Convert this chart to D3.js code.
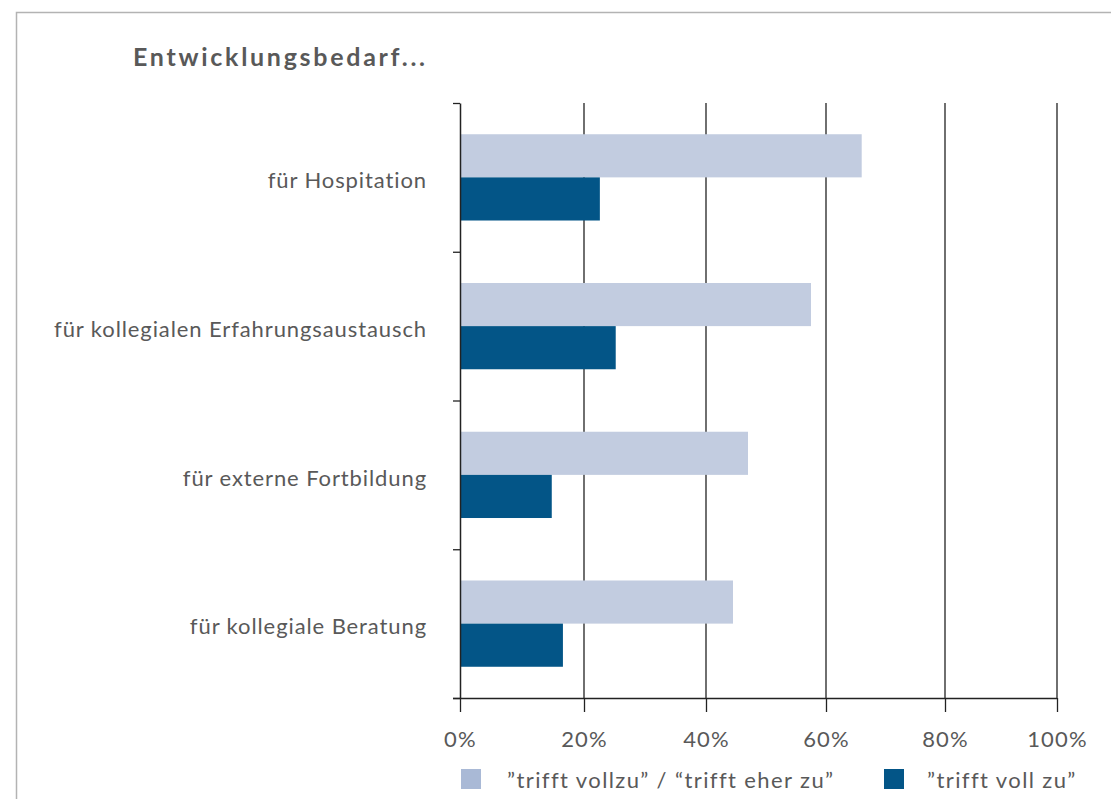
<!DOCTYPE html>
<html>
<head>
<meta charset="utf-8">
<script src="https://cdn.jsdelivr.net/npm/d3@7"></script>
<style>
  body { margin: 0; background: #fff; }
  svg { display: block; font-family: Lato, "Open Sans", sans-serif; }
  .axis path, .axis line { stroke: #222; }
</style>
</head>
<body>
<svg id="chart" width="1111" height="799"></svg>
<script>
const categories = [
  'für Hospitation',
  'für kollegialen Erfahrungsaustausch',
  'für externe Fortbildung',
  'für kollegiale Beratung'
];
const seriesNames = ['”trifft vollzu” / “trifft eher zu”', '”trifft voll zu”'];
const agreeValues = [66, 57.5, 47, 44.5];     // trifft voll zu / eher zu
const fullAgreeValues = [22.6, 25.2, 14.8, 16.6]; // trifft voll zu
const xTicks = [0, 20, 40, 60, 80, 100];
const colors = ['#c2cce0', '#035587'];
const legendColors = ['#a9b9d6', '#035587'];

const svg = d3.select('#chart');
const textColor = '#595959';

// frame
svg.append('path')
  .attr('d', 'M16.5,799 L16.5,12.5 L1111,12.5')
  .attr('fill', 'none')
  .attr('stroke', '#b3b3b3')
  .attr('stroke-width', 1.5);

// title
svg.append('text')
  .attr('x', 133)
  .attr('y', 66)
  .attr('font-size', 25)
  .attr('font-weight', 'bold')
  .attr('fill', textColor)
  .attr('textLength', 292)
  .text('Entwicklungsbedarf...');

const plotTop = 103, plotBottom = 698;

// piecewise scale to follow the reference gridlines
const x = d3.scaleLinear()
  .domain(xTicks)
  .range([460, 584, 706, 826, 945, 1057]);

const y = d3.scaleBand()
  .domain(categories)
  .range([plotTop, plotBottom])
  .paddingInner(0.42)
  .paddingOuter(0.21);

const ySub = d3.scaleBand()
  .domain([0, 1])
  .range([0, y.bandwidth()]);

// gridlines
svg.append('g')
  .selectAll('line')
  .data(xTicks.slice(1))
  .enter()
  .append('line')
  .attr('x1', d => x(d))
  .attr('x2', d => x(d))
  .attr('y1', plotTop)
  .attr('y2', plotBottom)
  .attr('stroke', '#222')
  .attr('stroke-width', 1.3);

// bars
const rows = categories.map((c, i) => ({ cat: c, vals: [agreeValues[i], fullAgreeValues[i]] }));
const groups = svg.append('g')
  .selectAll('g')
  .data(rows)
  .enter()
  .append('g')
  .attr('transform', d => `translate(0,${y(d.cat)})`);

groups.selectAll('rect')
  .data(d => d.vals)
  .enter()
  .append('rect')
  .attr('x', x(0))
  .attr('y', (d, i) => ySub(i))
  .attr('width', d => x(d) - x(0))
  .attr('height', ySub.bandwidth())
  .attr('fill', (d, i) => colors[i]);

// y axis with ticks at category boundaries
const yBound = d3.scaleLinear().domain([0, categories.length]).range([plotTop, plotBottom]);
const yAxis = svg.append('g')
  .attr('class', 'axis')
  .attr('transform', `translate(${x(0)},0)`)
  .call(d3.axisLeft(yBound).tickValues(d3.range(categories.length + 1)).tickFormat('').tickSize(7).tickSizeOuter(0));
yAxis.selectAll('line').attr('stroke-width', 1.3);
yAxis.select('.domain').attr('stroke-width', 1.5);

// category labels
svg.append('g')
  .selectAll('text')
  .data(categories)
  .enter()
  .append('text')
  .attr('x', 427)
  .attr('y', d => y(d) + y.bandwidth() / 2 + 3)
  .attr('dy', '0.35em')
  .attr('text-anchor', 'end')
  .attr('font-size', 22)
  .attr('letter-spacing', 0.9)
  .attr('fill', textColor)
  .text(d => d);

// x axis
const xAxis = svg.append('g')
  .attr('class', 'axis')
  .attr('transform', `translate(0,${plotBottom})`)
  .call(d3.axisBottom(x).tickValues(xTicks).tickFormat(d => d + '%').tickSize(14).tickSizeOuter(0).tickPadding(19));
xAxis.select('.domain').attr('d', `M453,0.5H${x(100)}`).attr('stroke-width', 1.5);
xAxis.selectAll('line').attr('stroke-width', 1.3);
xAxis.selectAll('text')
  .attr('font-size', 22)
  .attr('letter-spacing', 1.2)
  .attr('font-family', 'Lato, sans-serif')
  .attr('fill', textColor);

// legend
const legendX = [461, 884];
const legend = svg.append('g')
  .selectAll('g')
  .data(seriesNames)
  .enter()
  .append('g')
  .attr('transform', (d, i) => `translate(${legendX[i]},769)`);

legend.append('rect')
  .attr('width', 20)
  .attr('height', 20)
  .attr('fill', (d, i) => legendColors[i]);

legend.append('text')
  .attr('x', (d, i) => i === 0 ? 46 : 43)
  .attr('y', 19)
  .attr('font-size', 22)
  .attr('letter-spacing', 1.4)
  .attr('fill', textColor)
  .text(d => d);
</script>
</body>
</html>
